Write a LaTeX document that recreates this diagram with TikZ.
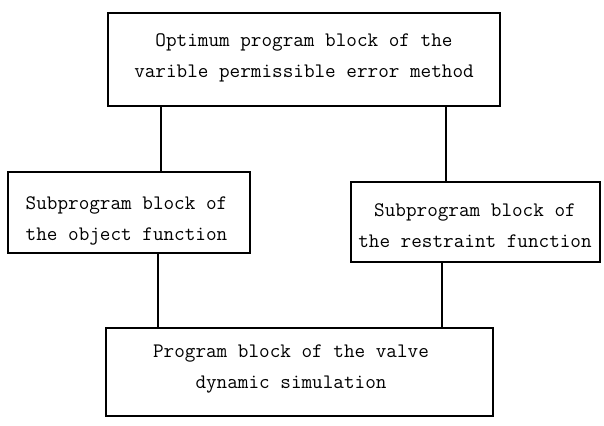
\documentclass[tikz,border=0pt]{standalone}
\usepackage{fontspec}
\begin{document}
\begin{tikzpicture}[x=1pt,y=-1pt,
  blockbox/.style={draw=black,line width=1.4pt,rectangle,inner sep=0pt},
  blocktext/.style={align=center,inner sep=0pt,font=\ttfamily\fontsize{20.6}{31}\selectfont},
  link/.style={draw=black,line width=1.4pt}]
\useasboundingbox (0,0) rectangle (604,425);
% boxes
\node[blockbox,minimum width=392pt,minimum height=93pt] (top) at (304,59.5) {};
\node[blockbox,minimum width=242pt,minimum height=81pt] (left) at (129,212.5) {};
\node[blockbox,minimum width=249pt,minimum height=80pt] (right) at (475.5,222) {};
\node[blockbox,minimum width=387pt,minimum height=88pt] (bottom) at (299.5,372) {};
% texts
\node[blocktext] (ttop) at (304,57.5) {Optimum program block of the\\varible permissible error method};
\node[blocktext] (tleft) at (126.5,221) {Subprogram block of\\the object function};
\node[blocktext] (tright) at (475,226) {Subprogram block of\\the restraint function};
\node[blocktext] (tbottom) at (291,368.5) {Program block of the valve\\dynamic simulation};
% connector x positions
\coordinate (c1) at (161,0);
\coordinate (c2) at (446,0);
\coordinate (c3) at (158,0);
\coordinate (c4) at (442,0);
\draw[link] (top.south -| c1) -- (left.north -| c1);
\draw[link] (top.south -| c2) -- (right.north -| c2);
\draw[link] (left.south -| c3) -- (bottom.north -| c3);
\draw[link] (right.south -| c4) -- (bottom.north -| c4);
\end{tikzpicture}
\end{document}
